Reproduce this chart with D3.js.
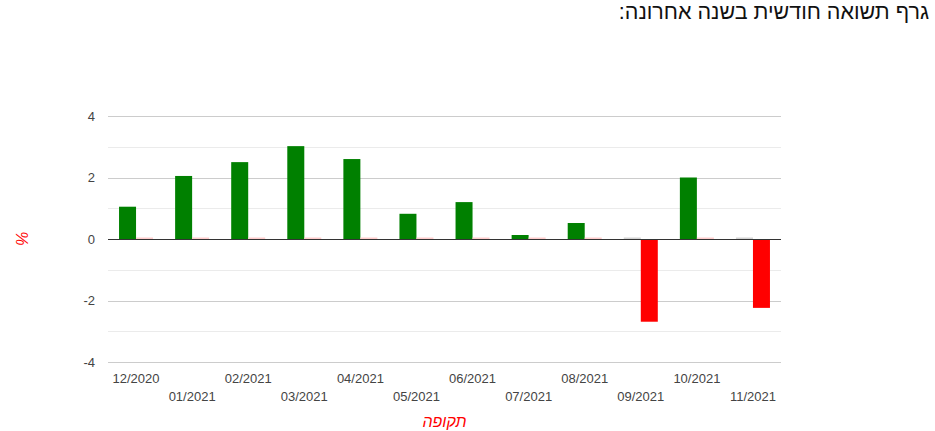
<!DOCTYPE html>
<html><head><meta charset="utf-8">
<script src="https://cdn.jsdelivr.net/npm/d3@7"></script>
<style>
body{margin:0;background:#fff;}
svg{display:block;font-family:Arial,"Liberation Sans",sans-serif;}
</style></head>
<body><svg id="c" width="935" height="431"></svg>
<script>
const title = "גרף תשואה חודשית בשנה אחרונה:";
const categories = ["12/2020","01/2021","02/2021","03/2021","04/2021","05/2021","06/2021","07/2021","08/2021","09/2021","10/2021","11/2021"];
const positiveValues = [1.05,2.05,2.5,3.02,2.6,0.82,1.2,0.13,0.52,0,2.0,0];
const negativeValues = [0,0,0,0,0,0,0,0,0,-2.69,0,-2.24];
const yTicks = [-4,-2,0,2,4];
const yMinorTicks = [-3,-1,1,3];
const xTitle = "תקופה";
const yTitle = "%";

const svg = d3.select("#c");
const L = 108, R = 781, T = 116, B = 362;
const x = d3.scaleBand().domain(categories).range([L, R]).paddingInner(0).paddingOuter(0);
const y = d3.scaleLinear().domain([-4, 4]).range([B, T]);
const sub = d3.scaleBand().domain(["pos","neg"]).range([0, 34]);
const off = (x.bandwidth() - 34) / 2;

svg.append("text").attr("x", 929).attr("y", 19).attr("text-anchor", "start")
  .attr("font-size", 21.5).attr("fill", "#111").attr("direction","rtl").text(title);

// gridlines
svg.append("g").selectAll("line").data(yMinorTicks).join("line")
  .attr("x1", L).attr("x2", R).attr("y1", d => Math.round(y(d)) + 0.5).attr("y2", d => Math.round(y(d)) + 0.5)
  .attr("stroke", "#ebebeb");
svg.append("g").selectAll("line").data(yTicks.filter(d => d !== 0)).join("line")
  .attr("x1", L).attr("x2", R).attr("y1", d => Math.round(y(d)) + 0.5).attr("y2", d => Math.round(y(d)) + 0.5)
  .attr("stroke", "#cccccc");

// y axis labels
const yAxis = d3.axisLeft(y).tickValues(yTicks).tickSize(0).tickPadding(0).tickFormat(d3.format("d"));
const yg = svg.append("g").attr("transform", `translate(${L - 13},0)`).call(yAxis);
yg.select(".domain").remove();
yg.selectAll("text").attr("font-size", 13).attr("fill", "#444").attr("font-family", "Arial,'Liberation Sans',sans-serif")
  .text(d => d < 0 ? "-" + Math.abs(d) : d);

// bars
const barsG = svg.append("g");
categories.forEach((c, i) => {
  const pv = positiveValues[i], nv = negativeValues[i];
  const x0 = x(c) + off;
  if (pv !== 0) {
    barsG.append("rect").attr("x", x0 + sub("pos")).attr("width", sub.bandwidth())
      .attr("y", y(pv)).attr("height", y(0) - y(pv)).attr("fill", "#008000");
  } else {
    barsG.append("rect").attr("x", x0 + sub("pos")).attr("width", sub.bandwidth())
      .attr("y", y(0) - 1.5).attr("height", 1.5).attr("fill", "#c8c8c8").attr("opacity", 0.8);
  }
  if (nv !== 0) {
    barsG.append("rect").attr("x", x0 + sub("neg")).attr("width", sub.bandwidth())
      .attr("y", y(0)).attr("height", y(nv) - y(0)).attr("fill", "#ff0000");
  } else {
    barsG.append("rect").attr("x", x0 + sub("neg")).attr("width", sub.bandwidth())
      .attr("y", y(0) - 1.5).attr("height", 1.5).attr("fill", "#ffcccc");
  }
});

// baseline
svg.append("line").attr("x1", L).attr("x2", R).attr("y1", Math.round(y(0)) + 0.5).attr("y2", Math.round(y(0)) + 0.5)
  .attr("stroke", "#333").attr("stroke-width", 1);

// x labels
const xAxis = d3.axisBottom(x).tickSize(0).tickPadding(0);
const xg = svg.append("g").attr("transform", `translate(0,${B})`).call(xAxis);
xg.select(".domain").remove();
xg.selectAll("text").attr("font-size", 13).attr("fill", "#444").attr("font-family", "Arial,'Liberation Sans',sans-serif")
  .attr("dy", null).attr("y", (d, i) => i % 2 === 0 ? 21 : 39);

// axis titles
svg.append("text").attr("x", x(categories[5]) + x.bandwidth()).attr("y", 427).attr("text-anchor", "middle")
  .attr("font-size", 16).attr("font-style", "italic").attr("fill", "#ff0000").text(xTitle);
svg.append("text").attr("transform", `translate(28,${y(0)}) rotate(-90)`).attr("text-anchor", "middle")
  .attr("font-size", 16).attr("font-style", "italic").attr("fill", "#ff0000").text(yTitle);
</script></body></html>
